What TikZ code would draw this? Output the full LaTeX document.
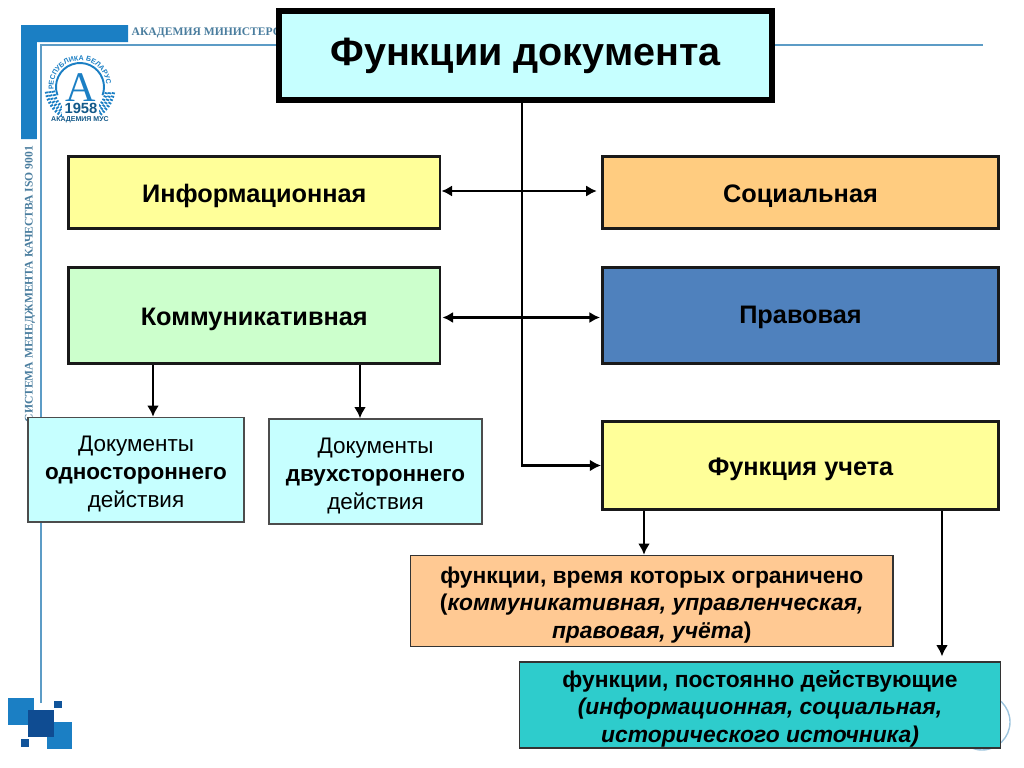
\documentclass[tikz,border=0pt]{standalone}
\usepackage{fontspec}
\setmainfont{Liberation Sans}
\newfontfamily\emblemfont{Liberation Serif}
\usetikzlibrary{decorations.text,arrows.meta}
\definecolor{framecol}{HTML}{1B7FC4}
\definecolor{linecol}{HTML}{5C9CC6}
\definecolor{darkcol}{HTML}{0F4C92}
\definecolor{palecyan}{HTML}{C6FFFF}
\definecolor{paleyellow}{HTML}{FFFF99}
\definecolor{palegreen}{HTML}{CCFFCC}
\definecolor{sandcol}{HTML}{FFCC80}
\definecolor{bluecol}{HTML}{4F81BD}
\definecolor{peachcol}{HTML}{FFC993}
\definecolor{tealcol}{HTML}{2ECCCC}
\newcommand{\lift}{\rule{0pt}{7pt}}
\tikzset{
  topbox/.style={draw=black,line width=1.7pt,fill=palecyan,minimum width=4.93cm,minimum height=.89cm,font=\fontsize{11.25}{12}\bfseries},
  mainbox/.style={draw=black!90,line width=.85pt,minimum width=3.96cm,inner sep=0pt,text height=5.6pt,text depth=0pt,font=\fontsize{7.2}{9}\bfseries},
  docbox/.style={draw=black!70,line width=.4pt,fill=palecyan,align=center,inner sep=0pt,font=\fontsize{6.4}{7.95}\selectfont},
  notebox/.style={draw=black!80,line width=.4pt,align=center,inner sep=0pt,font=\fontsize{6.5}{7.8}\bfseries},
  link/.style={line width=.85pt,-{Latex[length=3.2pt,width=3.4pt]}},
  twolink/.style={line width=.8pt,{Latex[length=3pt,width=3.2pt]}-{Latex[length=3pt,width=3.2pt]}},
  wreath/.style={framecol,line width=.9pt,dash pattern=on .5pt off .5pt}
}
\begin{document}
\begin{tikzpicture}
    \useasboundingbox (0,0) rectangle (10.24,7.67);
    \fill[framecol] (0.21,7.42) -- (1.28,7.42) -- (1.28,7.25) -- (0.37,7.25) -- (0.37,6.28) -- (0.21,6.28) -- cycle;
    \draw[linecol,line width=.55pt] (0.41,0.64) -- (0.41,7.22) -- (9.83,7.22);
    \fill[framecol] (0.08,0.69) rectangle (0.34,0.42);
    \fill[framecol] (0.47,0.45) rectangle (0.72,0.18);
    \fill[darkcol] (0.28,0.57) rectangle (0.54,0.30);
    \fill[darkcol!85!framecol] (0.54,0.66) rectangle (0.62,0.59);
    \fill[darkcol!85!framecol] (0.21,0.28) rectangle (0.29,0.20);
    \draw[linecol!60,line width=.4pt] (9.82,0.45) circle (.28cm);
    \node[anchor=west,inner sep=0pt,text=linecol!80!black] (academy) at (1.31,7.34) {\emblemfont\fontsize{3.3}{5}\bfseries АКАДЕМИЯ МИНИСТЕРС};
    \node[rotate=90,anchor=west,inner sep=0pt,text=linecol!80!black] (quality) at (0.30,3.44) {\emblemfont\fontsize{3.3}{4}\bfseries СИСТЕМА МЕНЕДЖМЕНТА КАЧЕСТВА ISO 9001};
    \foreach \r in {.27,.305,.34}
    \draw[wreath] (0.80,6.80) ++(188:\r) arc (188:352:\r);
    \draw[framecol,line width=.55pt] (0.80,6.80) ++(200:.24) arc (200:-20:.24);
    \path[decoration={text along path,text align=center,text color=framecol,text={|\fontsize{2}{3}\bfseries|РЕСПУБЛИКА БЕЛАРУСЬ}},decorate] (0.80,6.80) ++(178:.265) arc (178:2:.265);
    \fill[white] (0.62,6.42) rectangle (0.99,6.65);
    \node[inner sep=0pt,text=framecol] (letter) at (0.81,6.79) {\emblemfont\fontsize{12}{12}\selectfont A};
    \node[inner sep=0pt,text=framecol!70!black] (year) at (0.81,6.585) {\fontsize{4.2}{5}\bfseries 1958};
    \node[inner sep=0pt,text=framecol!70!black] (mus) at (0.80,6.47) {\fontsize{2}{3}\bfseries АКАДЕМИЯ МУС};

    \node[topbox] (func) at (5.255,7.115) {Функции документа};
    \node[mainbox,fill=paleyellow,minimum width=3.715cm,minimum height=.72cm] (inform) at (2.5425,5.745) {Информационная};
    \node[mainbox,fill=palegreen,minimum width=3.715cm,minimum height=.96cm] (commun) at (2.5425,4.515) {Коммуникативная};
    \node[mainbox,fill=sandcol,minimum height=.72cm] (social) at (8.005,5.745) {Социальная};
    \node[mainbox,fill=bluecol,minimum height=.96cm,text height=4.6pt] (legal) at (8.005,4.515) {Правовая};
    \node[mainbox,fill=paleyellow,minimum height=.88cm] (account) at (8.005,3.015) {Функция учета};
    \node[docbox,minimum width=2.16cm,minimum height=1.045cm] (docone) at (1.36,2.9725) {\lift Документы\\{\bfseries одностороннего}\\действия};
    \node[docbox,minimum width=2.13cm,minimum height=1.05cm] (doctwo) at (3.755,2.955) {\lift Документы\\{\bfseries двухстороннего}\\действия};
    \node[notebox,fill=peachcol,minimum width=4.825cm,minimum height=.91cm] (limited) at (6.5175,1.66) {\lift функции, время которых ограничено\\(\textit{коммуникативная, управленческая,}\\\textit{правовая, учёта})};
    \node[notebox,fill=tealcol,minimum width=4.81cm,minimum height=.86cm] (constant) at (7.6,0.62) {\lift функции, постоянно действующие\\\textit{(информационная, социальная,}\\\textit{исторического источника)}};

    \coordinate (elbow) at (account.west -| 5.22,0);
    \draw[link] (func.south -| elbow) -- (elbow) -- (account.west);
    \draw[twolink,shorten >=1.2pt] ([yshift=.015cm]inform.east) -- ([yshift=.015cm]social.west);
    \draw[twolink,shorten >=.3pt,shorten <=.3pt] ([yshift=-.02cm]commun.east) -- ([yshift=-.02cm]legal.west);
    \foreach \from/\to/\x in {commun/docone/1.53,commun/doctwo/3.60,account/limited/6.44}
    \draw[link] (\from.south -| \x,0) -- (\to.north -| \x,0);
    \draw[link,shorten >=1.4pt] (account.south -| 9.42,0) -- (constant.north -| 9.42,0);
  \end{tikzpicture}
\end{document}
